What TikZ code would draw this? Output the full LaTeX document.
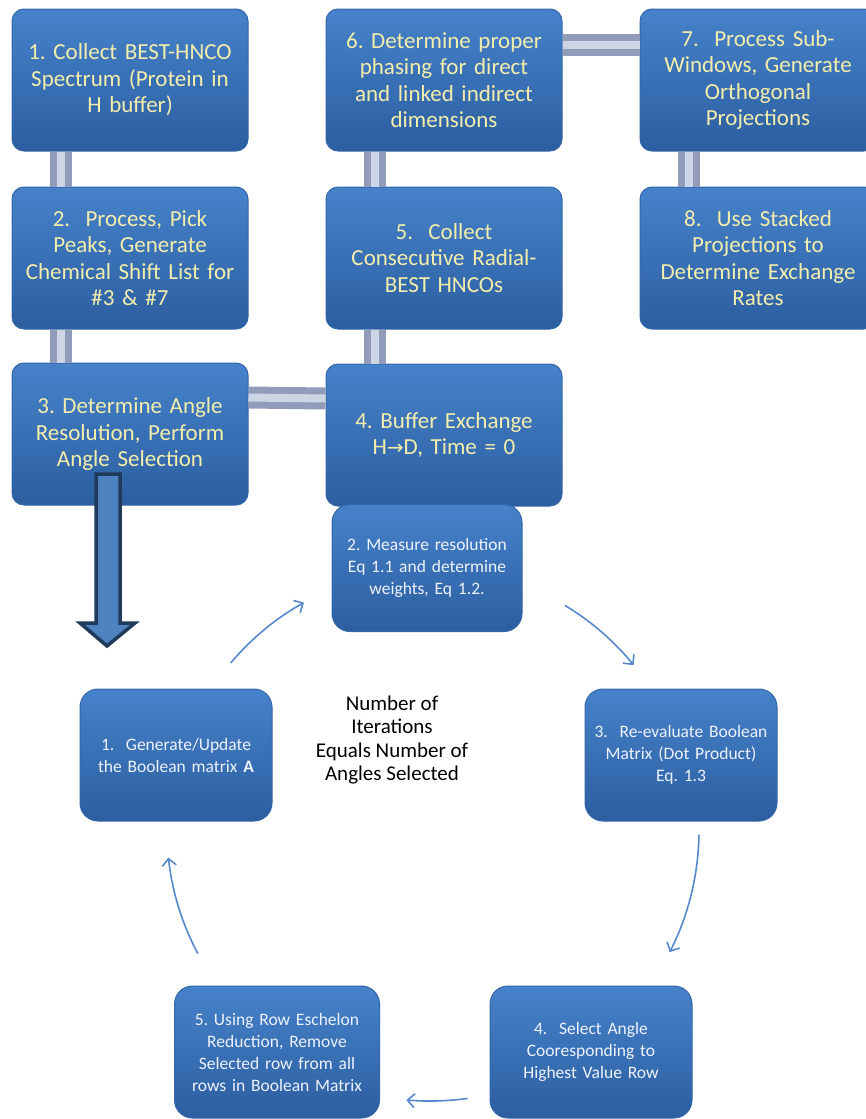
\documentclass[tikz,border=0pt]{standalone}
\usepackage{fontspec}
\setmainfont{Carlito}
\newfontfamily\symfont{DejaVu Sans}
\usetikzlibrary{arrows.meta, positioning, calc}
\definecolor{boxtop}{RGB}{70,130,202}
\definecolor{boxbot}{RGB}{44,94,160}
\definecolor{boxedge}{RGB}{52,102,170}
\definecolor{paletext}{RGB}{243,238,172}
\definecolor{cyctext}{RGB}{238,242,250}
\definecolor{pipegray}{RGB}{145,156,186}
\definecolor{pipelight}{RGB}{205,212,228}
\definecolor{arrowblue}{RGB}{88,136,204}
\definecolor{navy}{RGB}{32,58,92}
\definecolor{midblue}{RGB}{78,130,192}
\frenchspacing

\begin{document}
\begin{tikzpicture}[x=1pt,y=-1pt,
  topbox/.style={rounded corners=12pt, top color=boxtop, bottom color=boxbot, draw=boxedge, line width=1pt,
    minimum width=236pt, minimum height=142pt, text width=234pt, align=center, text=paletext,
    font=\fontsize{23}{26.5}\selectfont, inner sep=0pt},
  cycbox/.style={rounded corners=18pt, top color=boxtop, bottom color=boxbot, draw=boxedge, line width=1pt,
    minimum width=192pt, minimum height=132pt, text width=184pt, align=center, text=cyctext,
    font=\fontsize{17.5}{22}\selectfont, inner sep=0pt},
  pipe/.style={draw=pipegray, double=pipelight, double distance=8pt, line width=7pt},
  cyc/.style={line width=1.6pt, arrowblue, -{Straight Barb[length=7pt,width=14pt]}}
]
\useasboundingbox (0,0) rectangle (865,1119);

% Workflow boxes
\node[topbox] (b1) at (130,80) {1. Collect BEST-HNCO\\Spectrum (Protein in\\H buffer)};
\node[topbox] (b2) at (130,258) {2.\ \ Process, Pick\\Peaks, Generate\\Chemical Shift List for\\\#3 \& \#7};
\node[topbox] (b3) at (130,434) {3. Determine Angle\\Resolution, Perform\\Angle Selection};
\node[topbox] (b4) at (444,435) {4. Buffer Exchange\\H{\symfont\fontsize{20}{26.5}\selectfont →}D, Time = 0};
\node[topbox] (b5) at (444,258) {5.\ \ Collect\\Consecutive Radial-\\BEST HNCOs};
\node[topbox] (b6) at (444,80) {6. Determine proper\\phasing for direct\\and linked indirect\\dimensions};
\node[topbox] (b7) at (758,80) {7.\ \ Process Sub-\\Windows, Generate\\Orthogonal\\Projections};
\node[topbox] (b8) at (758,258) {8.\ \ Use Stacked\\Projections to\\Determine Exchange\\Rates};

% Pipes between boxes
\draw[pipe] ([xshift=49pt]b1.south west) -- ([xshift=49pt]b2.north west);
\draw[pipe] ([xshift=49pt]b2.south west) -- ([xshift=49pt]b3.north west);
\draw[pipe] ([yshift=-35pt]b3.north east) -- ([yshift=-35pt]b4.north west);
\draw[pipe] ([xshift=49pt]b4.north west) -- ([xshift=49pt]b5.south west);
\draw[pipe] ([xshift=49pt]b5.north west) -- ([xshift=49pt]b6.south west);
\draw[pipe] ([yshift=-36pt]b6.north east) -- ([yshift=-36pt]b7.north west);
\draw[pipe] ([xshift=49pt]b7.south west) -- ([xshift=49pt]b8.north west);

% Big down arrow
\draw[line width=3.5pt, navy, fill=midblue, line join=miter]
  (96,474) -- (120,474) -- (120,623) -- (135,623) -- (107,646) -- (80,623) -- (96,623) -- cycle;

% Selection cycle
\node[cycbox, minimum width=190pt, minimum height=127pt] (c2) at (427,568) {2. Measure resolution\\Eq 1.1 and determine\\weights, Eq 1.2.};
\node[cycbox] (c1) at (176,755) {1.\ \ Generate/Update\\the Boolean matrix \textbf{A}};
\node[cycbox] (c3) at (681,755) {3.\ \ Re-evaluate Boolean\\Matrix (Dot Product)\\Eq. 1.3};
\node[cycbox, minimum width=202pt, text width=196pt] (c4) at (591,1052) {4.\ \ Select Angle\\Cooresponding to\\Highest Value Row};
\node[cycbox, minimum width=205pt, text width=196pt] (c5) at (277,1052) {5. Using Row Eschelon\\Reduction, Remove\\Selected row from all\\rows in Boolean Matrix};

\node[align=center, font=\fontsize{21}{23.5}\selectfont] (iter) at (392,740)
  {Number of\\Iterations\\Equals Number of\\Angles Selected};

% Cycle arrows
\coordinate (hub) at (430,830);
\draw[cyc] ([shift={(220:260)}]hub) arc[start angle=220, end angle=241, radius=260];
\draw[cyc] ([shift={(301:262)}]hub) arc[start angle=301, end angle=321, radius=262];
\draw[cyc] ([shift={(1:269)}]hub) arc[start angle=1, end angle=27, radius=269];
\draw[cyc] ([shift={(82:271)}]hub) arc[start angle=82, end angle=95, radius=271];
\draw[cyc] ([shift={(152:263)}]hub) arc[start angle=152, end angle=174, radius=263];
\end{tikzpicture}
\end{document}
